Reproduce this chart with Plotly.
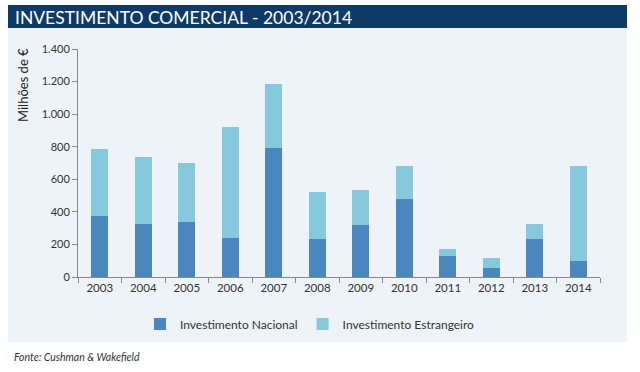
import plotly.graph_objects as go

years = ["2003", "2004", "2005", "2006", "2007", "2008", "2009", "2010", "2011", "2012", "2013", "2014"]
nacional = [374, 325, 336, 241, 794, 235, 321, 479, 127, 53, 231, 100]
estrangeiro = [410, 412, 364, 679, 391, 285, 211, 202, 47, 62, 96, 581]
y_ticks = [0, 200, 400, 600, 800, 1000, 1200, 1400]

W, H = 640, 372
L, R, T, B = 78, 40, 49, 95
pw, ph = W - L - R, H - T - B

def px(x):
    return (x - L) / pw

def py(y):
    return (H - B - y) / ph

FONT = "Lato, 'Open Sans', sans-serif"
C_NAC = "#4a87bf"
C_EST = "#86c9dd"

fig = go.Figure()
fig.add_trace(go.Bar(x=years, y=nacional, name="Investimento Nacional",
                     marker=dict(color=C_NAC, line=dict(width=0))))
fig.add_trace(go.Bar(x=years, y=estrangeiro, name="Investimento Estrangeiro",
                     marker=dict(color=C_EST, line=dict(width=0))))

fig.update_layout(
    width=W, height=H,
    margin=dict(l=L, r=R, t=T, b=B),
    barmode="stack", bargap=0.6,
    paper_bgcolor="white", plot_bgcolor="rgba(0,0,0,0)",
    font=dict(family=FONT, size=11, color="#333333"),
    separators=",.",
    showlegend=True,
    legend=dict(orientation="h", x=px(310), xanchor="center", y=py(324), yanchor="middle",
                font=dict(size=12, color="#333333"), bgcolor="rgba(0,0,0,0)",
                itemwidth=30, traceorder="normal", tracegroupgap=0),
    xaxis=dict(type="category", showline=True, linecolor="#888888", linewidth=1,
               ticks="outside", tickson="boundaries", ticklen=5, tickcolor="#888888",
               showgrid=False, tickfont=dict(size=11.5, color="#333333")),
    yaxis=dict(range=[0, 1400], tickvals=y_ticks, tickformat=",d", showline=True,
               linecolor="#888888", linewidth=1, ticks="outside", ticklen=5,
               tickcolor="#888888", showgrid=False, zeroline=False,
               tickfont=dict(size=11, color="#333333")),
    shapes=[
        dict(type="rect", xref="paper", yref="paper", x0=px(8), x1=px(627), y0=py(342), y1=py(28),
             fillcolor="#eef3f8", line=dict(width=0), layer="below"),
        dict(type="rect", xref="paper", yref="paper", x0=px(8), x1=px(627), y0=py(28), y1=py(5),
             fillcolor="#0d3a66", line=dict(width=0), layer="below"),
    ],
    annotations=[
        dict(text="INVESTIMENTO COMERCIAL - 2003/2014", xref="paper", yref="paper",
             x=px(13), y=py(17), xanchor="left", yanchor="middle", showarrow=False,
             font=dict(family=FONT, size=17.5, color="white")),
        dict(text="Milhões de €", xref="paper", yref="paper", x=px(23), y=py(85),
             xanchor="center", yanchor="middle", textangle=-90, showarrow=False,
             font=dict(family=FONT, size=13, color="#222222")),
        dict(text="<i>Fonte: Cushman & Wakefield</i>", xref="paper", yref="paper",
             x=px(12), y=py(357), xanchor="left", yanchor="middle", showarrow=False,
             font=dict(family=FONT, size=10.5, color="#333333")),
    ],
)

fig.write_html("out.html", config={"displayModeBar": False},
               post_script="document.body.style.margin='0';")
